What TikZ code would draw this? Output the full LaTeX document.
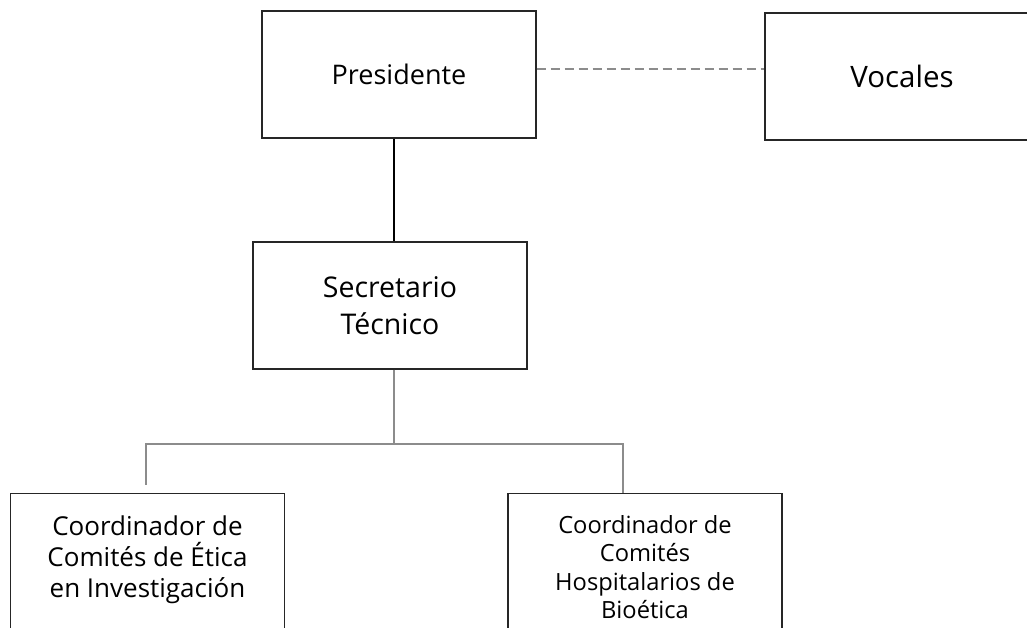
\documentclass[tikz,border=0pt]{standalone}
\usepackage{fontspec}
\setmainfont{Open Sans}
\usetikzlibrary{positioning,calc}
\tikzset{
  orgbox/.style={draw=black!85, line width=1.1pt, align=center, font=\fontsize{27}{37}\selectfont,
    minimum width=274pt, minimum height=127pt, inner sep=0pt},
  coordbox/.style={orgbox, anchor=north, minimum height=0pt, text depth=40pt, inner ysep=22pt},
  tree/.style={draw=black!45, line width=1.4pt},
}
\begin{document}
\begin{tikzpicture}[x=1pt, y=-1pt]
\useasboundingbox (0,0) rectangle (1027,628);
\clip (0,0) rectangle (1027,628);
% nivel superior
\node[orgbox] (pres) at (399,74.5) {Presidente};
\node[orgbox, font=\fontsize{29.5}{37}\selectfont] (voc) at (902,76.5) {Vocales};
\node[orgbox, font=\fontsize{28.5}{37}\selectfont] (sec) at (390,305.5) {Secretario\\T\'ecnico};
% coordinadores
\node[coordbox, font=\fontsize{26}{31}\selectfont] (coordEtica) at (147.5,493)
  {Coordinador de\\Comit\'es de \'Etica\\en Investigaci\'on};
\node[coordbox, font=\fontsize{23.7}{28.3}\selectfont] (coordBio) at (645,493)
  {Coordinador de\\Comit\'es\\Hospitalarios de\\Bio\'etica};
% conectores
\coordinate (joint) at (394,444);
\coordinate (lftend) at (146,485);
\coordinate (rgtend) at (623,493);
\draw[line width=1.8pt] (pres.south -| joint) -- (sec.north -| joint);
\draw[tree, dash pattern=on 9pt off 5pt] (pres.east) ++(0,-5.5) -- (voc.west |- 0,69);
\draw[tree] (sec.south -| joint) -- (joint);
\draw[tree] (joint) -| (lftend);
\draw[tree] (joint) -| (rgtend);
\end{tikzpicture}
\end{document}
